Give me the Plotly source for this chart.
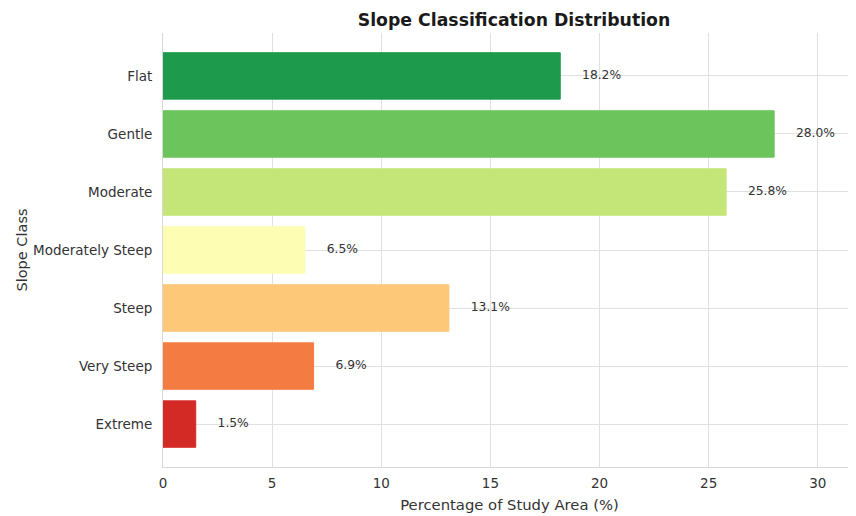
import plotly.graph_objects as go

categories = ["Flat", "Gentle", "Moderate", "Moderately Steep", "Steep", "Very Steep", "Extreme"]
values = [18.2, 28.0, 25.8, 6.5, 13.1, 6.9, 1.5]
colors = ["#1e9a4c", "#6cc45c", "#c4e578", "#fdfdb4", "#fdc878", "#f47c43", "#d42a26"]
xticks = [0, 5, 10, 15, 20, 25, 30]
labels = [f"{v:.1f}%" for v in values]
label_offset = 1.0

fig = go.Figure()
fig.add_trace(go.Bar(
    y=categories, x=values, orientation="h",
    marker=dict(color=colors, line=dict(color=colors, width=1)),
    width=0.8, showlegend=False, hoverinfo="skip",
))
fig.add_trace(go.Scatter(
    y=categories, x=[v + label_offset for v in values], mode="text",
    text=labels, textposition="middle right",
    textfont=dict(family="DejaVu Sans", size=12.3, color="#333333"),
    showlegend=False, hoverinfo="skip",
))

fig.update_layout(
    width=848, height=508,
    margin=dict(l=155, r=0, t=25, b=49),
    paper_bgcolor="white", plot_bgcolor="white",
    font=dict(family="DejaVu Sans", size=13.5, color="#333333"),
    title=dict(text="<b>Slope Classification Distribution</b>", x=506/848, xanchor="center",
               y=1 - 12/508, yanchor="middle", font=dict(size=17.3, color="#1a1a1a")),
    xaxis=dict(range=[0, 31.75], tickvals=xticks, showgrid=True, gridcolor="#e0e0e0",
               gridwidth=1, zeroline=False, showline=True, linecolor="#d8d8d8",
               ticks="", ticklabelstandoff=4, automargin=False,
               tickfont=dict(size=13.5, color="#333333"),
               title=dict(text="Percentage of Study Area (%)", font=dict(size=14.8), standoff=9)),
    yaxis=dict(categoryorder="array", categoryarray=categories, autorange=False,
               range=[6.74, -0.74], showgrid=True, gridcolor="#e0e0e0", gridwidth=1,
               zeroline=False, showline=True, linecolor="#d8d8d8", ticks="",
               ticklabelstandoff=7, automargin=False,
               tickfont=dict(size=13.5, color="#333333"),
               title=dict(text="Slope Class", font=dict(size=14.5), standoff=1)),
    bargap=0.2,
)

fig.write_html("out.html")
